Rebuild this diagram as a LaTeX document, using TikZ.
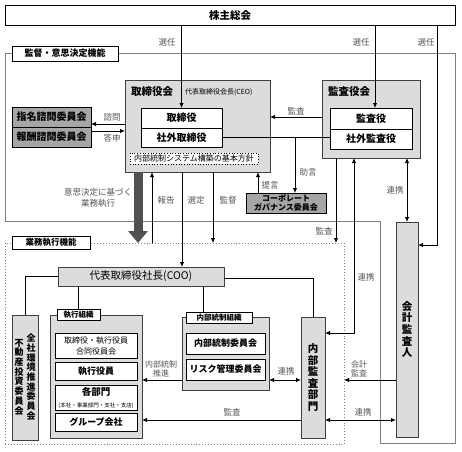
\documentclass[tikz,border=0pt]{standalone}
\usepackage{fontspec}
\setmainfont{Noto Sans CJK JP}
\usetikzlibrary{arrows.meta,calc}
\definecolor{lg}{HTML}{DCDCDC}
\definecolor{dg}{HTML}{A6A6A6}
\definecolor{fr}{HTML}{808080}
\definecolor{lab}{HTML}{555555}
\definecolor{bigarrow}{HTML}{505050}
\newcommand\jfs[1]{\fontsize{#1}{#1}\selectfont}
\newcommand\rbox[7][]{%
  \pgfmathsetmacro\cx{(#3+#5)/2}\pgfmathsetmacro\cy{(#4+#6)/2}%
  \pgfmathsetmacro\ww{#5-#3}\pgfmathsetmacro\hh{#6-#4}%
  \node[#1, minimum width=\ww pt, minimum height=\hh pt, inner sep=0pt, outer sep=0pt] (#2) at (\cx,\cy) {#7};}
\begin{document}
\begin{tikzpicture}[x=1pt,y=-1pt,
  every node/.style={inner sep=0pt, outer sep=0pt},
  wbox/.style={draw=black, line width=0.8pt, fill=white, font=\jfs{10}\bfseries},
  gbox/.style={draw=black!75, line width=0.9pt, fill=lg},
  dbox/.style={draw=black, line width=0.8pt, fill=dg, font=\jfs{10}\bfseries},
  tag/.style={draw=black, line width=0.8pt, fill=white, font=\jfs{8}\bfseries},
  lbl/.style={text=lab, font=\fontsize{8.5}{10}\selectfont, align=center},
  con/.style={draw=black, line width=0.9pt},
  arr/.style={con, -{Latex[length=5pt,width=4.5pt]}},
  darr/.style={con, {Latex[length=5pt,width=4.5pt]}-{Latex[length=5pt,width=4.5pt]}},
]
\useasboundingbox (0,0) rectangle (462,451);

% frames
\draw[fr, line width=0.8pt] (5,53) -- (455,53) -- (455,443) -- (380,443) -- (380,221) -- (5,221) -- cycle;
\rbox[tag, font=\jfs{9}\bfseries]{kantoku}{12}{46}{118}{61}{監督・意思決定機能}
\rbox[draw=fr, dotted, line width=0.9pt]{gf}{5}{243}{344}{444}{}
\rbox[tag, font=\jfs{8.5}\bfseries]{gyomu}{12}{236}{90}{249}{業務執行機能}

% top
\rbox[wbox, font=\jfs{10.5}\bfseries]{sh}{5}{5}{455}{25}{株主総会}

% board
\rbox[gbox, line width=1pt]{tk}{125}{80}{270}{172}{}
\node[font=\jfs{10.5}\bfseries, anchor=west] (tkt) at (131,92) {取締役会};
\node[font=\jfs{7}, anchor=west] (ceo) at (185,92) {代表取締役会長(CEO)};
\rbox[wbox]{tori}{141}{108}{222}{128}{取締役}
\rbox[wbox]{shagai}{141}{128}{222}{147}{社外取締役}
\rbox[draw=black, dotted, line width=0.7pt, fill=white, font=\jfs{8}]{kihon}{130}{153}{258}{164}{内部統制システム構築の基本方針}

% auditors board
\rbox[gbox, line width=1pt]{kk}{322}{80}{420}{158}{}
\node[font=\jfs{10.5}\bfseries, anchor=west] (kkt) at (328,92) {監査役会};
\rbox[wbox]{ky}{330}{108}{412}{129}{監査役}
\rbox[wbox]{sk}{330}{129}{412}{149}{社外監査役}

% committees
\rbox[dbox]{shimei}{12}{107}{91}{127}{指名諮問委員会}
\rbox[dbox]{hoshu}{12}{127}{91}{147}{報酬諮問委員会}
\rbox[dbox, font=\fontsize{8}{9.5}\selectfont\bfseries, align=center]{cg}{246}{193}{326}{213}{コーポレート\\ガバナンス委員会}

% execution
\rbox[gbox, font=\jfs{10.5}]{coo}{58}{267}{224}{286}{代表取締役社長(COO)}
\rbox[gbox]{zs}{12}{315}{38}{440}{}
\node[font=\fontsize{9}{9.7}\selectfont\bfseries, align=center] (zs1) at (31,377) {全\\社\\環\\境\\推\\進\\委\\員\\会};
\node[font=\fontsize{9}{9.7}\selectfont\bfseries, align=center] (zs2) at (19,377) {不\\動\\産\\投\\資\\委\\員\\会};

\rbox[gbox, line width=1pt]{sf}{50}{315}{142}{438}{}
\rbox[tag, font=\jfs{7.5}\bfseries]{sft}{57}{309}{100}{320}{執行組織}
\rbox[wbox, font=\fontsize{8}{11}\selectfont, align=center]{b1}{55}{333}{137}{358}{取締役・執行役員\\合同役員会}
\rbox[wbox, font=\jfs{9}\bfseries]{b2}{55}{362}{137}{380}{執行役員}
\rbox[wbox, font=\fontsize{9.5}{12}\selectfont, align=center]{b3}{55}{385}{137}{410}{{\bfseries 各部門}\\{\fontsize{5.5}{6}\selectfont (本社・事業部門・支社・支店)}}
\rbox[wbox, font=\jfs{9}\bfseries]{b4}{55}{413}{137}{431}{グループ会社}

\rbox[gbox, line width=1pt]{nf}{182}{317}{269}{390}{}
\rbox[tag, font=\jfs{7.5}\bfseries]{nft}{186}{312}{252}{323}{内部統制組織}
\rbox[wbox, font=\jfs{9}\bfseries]{c1}{186}{333}{265}{354}{内部統制委員会}
\rbox[wbox, font=\jfs{9}\bfseries]{c2}{186}{359}{265}{380}{リスク管理委員会}

\rbox[gbox, font=\fontsize{10.5}{11.6}\selectfont\bfseries, align=center]{ia}{301}{317}{325}{438}{内\\部\\監\\査\\部\\門}
\rbox[gbox, font=\fontsize{10.5}{11.6}\selectfont\bfseries, align=center]{ka}{396}{222}{418}{437}{会\\計\\監\\査\\人}

% coordinates
\coordinate (X1) at (375,0);
\coordinate (X3) at (437,245);
\coordinate (Y1) at (0,117);
\coordinate (X2) at (295,0);
\coordinate (X4) at (258,0);
\coordinate (Y2) at (0,124);
\coordinate (Y3) at (0,131);
\coordinate (XB) at (138,0);
\coordinate (X5) at (152,0);
\coordinate (X6) at (182,0);
\coordinate (X7) at (213,0);
\coordinate (X8) at (336,0);
\coordinate (X9) at (354,333);
\coordinate (X10) at (203,0);
\coordinate (Y4) at (0,278);
\coordinate (Y5) at (0,380);
\coordinate (Y6) at (0,420);

% connectors
\draw[arr] (sh.south -| tori.north) -- (tori.north);
\draw[arr] (sh.south -| X1) -- (ky.north -| X1);
\draw[arr] (sh.south -| X3) -- (X3) -- (ka.east |- X3);
\draw[arr] (kk.west |- Y1) -- (tk.east |- Y1);
\draw[con] (shagai.east) -- (shagai.east -| sk.west);
\draw[arr] (shagai.east -| X2) -- (cg.north -| X2);
\draw[arr] (cg.north -| X4) -- (tk.south -| X4);
\draw[arr] (tk.west |- Y2) -- (shimei.east |- Y2);
\draw[arr] (hoshu.east |- Y3) -- (tk.west |- Y3);
\draw[bigarrow, line width=9pt, -{Triangle[length=12pt,width=19pt]}] (tk.south -| XB) -- (gf.north -| XB);
\draw[arr] (gf.north -| X5) -- (tk.south -| X5);
\draw[arr] (tk.south -| X6) -- (coo.north -| X6);
\draw[arr] (tk.south -| X7) -- (gf.north -| X7);
\draw[arr] (kk.south -| X8) -- (gf.north -| X8);
\draw[darr] (kk.south -| X9) -- (X9) -- (ia.east |- X9);
\draw[darr] (kk.south -| ka.north) -- (ka.north);
\draw[con] (coo.west) -- (coo.west -| zs.north) -- (zs.north);
\draw[con] (coo.south -| sft.north) -- (sft.north);
\draw[con] (coo.south -| X10) -- (nft.north -| X10);
\draw[con] (coo.east |- Y4) -- (ia.north |- Y4) -- (ia.north);
\draw[arr] (nf.west |- Y5) -- (sf.east |- Y5);
\draw[darr] (nf.east |- Y5) -- (ia.west |- Y5);
\draw[arr] (ia.west |- Y6) -- (sf.east |- Y6);
\draw[darr] (ia.east |- Y6) -- (ka.west |- Y6);
\draw[arr] (ka.west |- Y5) -- (gf.east |- Y5);

% labels
\node[lbl] (l1) at (167,42) {選任};
\node[lbl] (l2) at (361,42) {選任};
\node[lbl] (l3) at (426,42) {選任};
\node[lbl] (l4) at (296,111) {監査};
\node[lbl] (l5) at (112,117) {諮問};
\node[lbl] (l6) at (112,138) {答申};
\node[lbl] (l7) at (308,172) {助言};
\node[lbl] (l8) at (270,185) {提言};
\node[lbl, font=\fontsize{8.5}{10.5}\selectfont] (l9) at (98,198) {意思決定に基づく\\業務執行};
\node[lbl] (l10) at (166,200) {報告};
\node[lbl] (l11) at (196,200) {選定};
\node[lbl] (l12) at (228,200) {監督};
\node[lbl] (l13) at (324,231) {監査};
\node[lbl] (l14) at (366,277) {連携};
\node[lbl] (l15) at (395,190) {連携};
\node[lbl, font=\fontsize{8}{9}\selectfont] (l16) at (161,369) {内部統制\\推進};
\node[lbl] (l17) at (286,371) {連携};
\node[lbl] (l18) at (232,412) {監査};
\node[lbl, font=\fontsize{8}{9}\selectfont] (l19) at (359,369) {会計\\監査};
\node[lbl] (l20) at (363,412) {連携};
\end{tikzpicture}
\end{document}
